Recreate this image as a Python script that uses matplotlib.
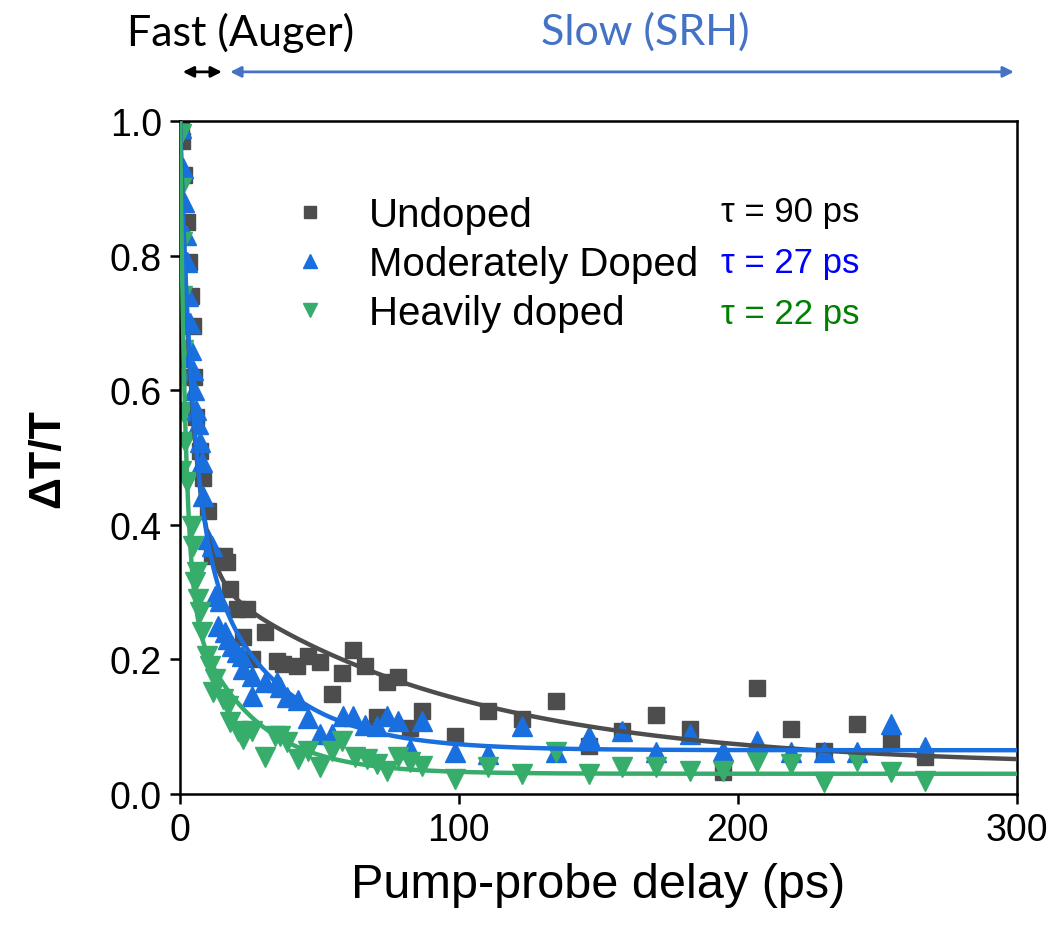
import numpy as np
import matplotlib.pyplot as plt

# ---- data ----
undoped_t = [0.3, 0.8, 1.6, 2.4, 3.2, 4.0, 4.7, 5.0, 5.7, 7.2, 8.2, 10.0, 11.5, 14.3, 15.8, 16.8, 17.9,
             20.4, 22.6, 24.0, 25.8, 30.5, 34.8, 36.9, 41.9, 45.9, 50.2, 54.5, 58.1, 62.0, 66.3,
             70.6, 74.2, 78.1, 82.4, 86.7,
             98.6, 110.4, 122.6, 134.8, 146.6, 158.4, 170.6, 182.8, 194.6, 206.8, 219.0, 230.8,
             242.6, 254.8, 267.0]
undoped_y = [0.99, 0.97, 0.92, 0.85, 0.79, 0.74, 0.695, 0.62, 0.56, 0.51, 0.47, 0.42, 0.354, 0.346, 0.354,
             0.345, 0.305, 0.275, 0.233, 0.275, 0.20, 0.24, 0.198, 0.193, 0.190, 0.205, 0.196, 0.149,
             0.180, 0.214, 0.190, 0.114, 0.166, 0.174, 0.098, 0.123,
             0.086, 0.123, 0.111, 0.138, 0.071, 0.093, 0.118, 0.097, 0.033, 0.158, 0.097, 0.064,
             0.104, 0.078, 0.055]

moderate_t = [0.4, 0.9, 1.4, 2.0, 2.5, 3.0, 3.5, 4.0, 4.5, 5.0, 5.6, 6.3, 0.1, 0.2, 0.2,
              7.2, 7.9, 8.2, 10.0, 11.5, 12.5, 14.3, 13.6, 16.1, 17.2, 18.6, 20.4, 22.2, 22.6,
              25.8, 25.8, 30.5, 34.8, 35.8, 38.4, 42.3, 45.9, 50.2, 54.5, 58.4, 62.0, 66.3,
              70.6, 74.2, 78.1, 82.4, 86.7,
              98.6, 110.4, 122.6, 134.8, 146.6, 158.4, 170.6, 182.8, 194.6, 206.8, 219.0, 230.8,
              242.6, 254.8, 267.0]
moderate_y = [0.99, 0.93, 0.88, 0.83, 0.79, 0.74, 0.70, 0.66, 0.63, 0.60, 0.57, 0.55, 0.84, 0.72, 0.65,
              0.523, 0.493, 0.443, 0.379, 0.368, 0.294, 0.287, 0.25, 0.241, 0.230, 0.220, 0.211,
              0.205, 0.186, 0.175, 0.146, 0.166, 0.166, 0.159, 0.144, 0.140, 0.113, 0.089, 0.089,
              0.116, 0.116, 0.103, 0.101, 0.116, 0.108, 0.067, 0.108,
              0.062, 0.059, 0.101, 0.062, 0.086, 0.094, 0.062, 0.089, 0.064, 0.079, 0.062, 0.062,
              0.062, 0.104, 0.070]

heavy_t = [0.2, 0.4, 0.6, 0.8, 1.0, 1.1, 1.8, 2.5, 0.2, 4.3, 4.7, 6.1, 5.4, 6.5, 7.2, 7.9, 9.7, 10.8,
           12.5, 11.8, 15.4, 17.2, 17.9, 20.8, 22.6, 25.8, 30.5, 34.1, 35.8, 38.4, 42.3, 45.9,
           50.2, 54.5, 58.1, 62.7, 67.0, 70.6, 74.2, 78.1, 82.4, 86.7,
           98.6, 110.4, 122.6, 134.8, 146.6, 158.4, 170.6, 182.8, 194.6, 206.8, 219.0, 230.8,
           242.6, 254.8, 267.0]
heavy_y = [0.98, 0.90, 0.82, 0.74, 0.66, 0.568, 0.523, 0.464, 0.48, 0.398, 0.368, 0.330, 0.315, 0.290,
           0.270, 0.241, 0.205, 0.190, 0.171, 0.152, 0.141, 0.131, 0.107, 0.094, 0.082, 0.094,
           0.055, 0.086, 0.086, 0.077, 0.052, 0.064, 0.040, 0.064, 0.079, 0.055, 0.052, 0.045,
           0.034, 0.055, 0.048, 0.042,
           0.022, 0.040, 0.030, 0.062, 0.030, 0.040, 0.040, 0.034, 0.034, 0.048, 0.045, 0.018,
           0.049, 0.033, 0.019]

# bi-exponential fit parameters: (A_fast, tau_fast, A_slow, tau_slow, offset)
undoped_fit = (0.656, 4.5, 0.303, 90, 0.041)
moderate_fit = (0.575, 4.5, 0.36, 27, 0.065)
heavy_fit = (0.70, 2.0, 0.27, 22, 0.030)

labels = ["Undoped", "Moderately Doped", "Heavily doped"]
taus = ["\u03c4 = 90 ps", "\u03c4 = 27 ps", "\u03c4 = 22 ps"]

gray = "#4d4d4d"
blue = "#1a6fdf"
green = "#37ad6b"

plt.rcParams['font.family'] = ['Liberation Sans', 'DejaVu Sans']

fig = plt.figure(figsize=(10.59, 9.37), dpi=100)
ax = fig.add_axes([0.170, 0.1516, 0.790, 0.7182])

t_fit = np.concatenate([np.linspace(0, 20, 400), np.linspace(20, 300, 300)])


def fit_curve(p, t):
    a1, t1, a2, t2, c = p
    return a1 * np.exp(-t / t1) + a2 * np.exp(-t / t2) + c


ax.plot(t_fit, fit_curve(undoped_fit, t_fit), color=gray, lw=3.2, zorder=3)
ax.plot(t_fit, fit_curve(moderate_fit, t_fit), color=blue, lw=3.2, zorder=3)
ax.plot(t_fit, fit_curve(heavy_fit, t_fit), color=green, lw=3.2, zorder=3)

ax.plot(undoped_t, undoped_y, 's', color=gray, ms=11.5, ls='none', label=labels[0], zorder=2)
ax.plot(moderate_t, moderate_y, '^', color=blue, ms=14, ls='none', label=labels[1], zorder=2)
ax.plot(heavy_t, heavy_y, 'v', color=green, ms=14, ls='none', label=labels[2], zorder=2)

ax.set_xlim(0, 300)
ax.set_ylim(0, 1.0)
ax.set_xticks([0, 100, 200, 300])
ax.set_yticks([0.0, 0.2, 0.4, 0.6, 0.8, 1.0])
ax.set_yticklabels(["0.0", "0.2", "0.4", "0.6", "0.8", "1.0"])
ax.tick_params(axis='both', direction='out', length=7, width=1.8, labelsize=27, pad=6)
for s in ax.spines.values():
    s.set_linewidth(1.8)

ax.set_xlabel("Pump-probe delay (ps)", fontsize=35, labelpad=10)
ax.set_ylabel("\u0394T/T", fontsize=32, fontweight='bold', labelpad=30)

leg = ax.legend(loc='upper left', bbox_to_anchor=(0.127, 0.888), frameon=False, fontsize=29,
                handletextpad=0.85, labelspacing=0.27, markerscale=0.75, handlelength=1.2,
                borderaxespad=0, borderpad=0)

tau_colors = ["black", "#0000ff", "#008000"]
for i, (txt, c) in enumerate(zip(taus, tau_colors)):
    ax.text(0.812, 0.865 - i * 0.0755, txt, color=c, fontsize=25, ha='right', va='center',
            transform=ax.transAxes)

# fast / slow arrows on top
trans = ax.get_xaxis_transform()
ax.annotate("", xy=(0, 1.073), xytext=(16, 1.073), xycoords=trans, textcoords=trans,
            arrowprops=dict(arrowstyle='<|-|>', color='black', lw=2, mutation_scale=16),
            annotation_clip=False)
ax.annotate("", xy=(17, 1.073), xytext=(300, 1.073), xycoords=trans, textcoords=trans,
            arrowprops=dict(arrowstyle='<|-|>', color='#4472c4', lw=2, mutation_scale=16),
            annotation_clip=False)
ax.text(-19, 1.133, "Fast (Auger)", transform=trans, fontsize=31, color='black',
        ha='left', va='center', family=['Lato', 'DejaVu Sans'])
ax.text(166.7, 1.133, "Slow (SRH)", transform=trans, fontsize=31, color='#4472c4',
        ha='center', va='center', family=['Lato', 'DejaVu Sans'])

fig.savefig("out.png", dpi=100)
